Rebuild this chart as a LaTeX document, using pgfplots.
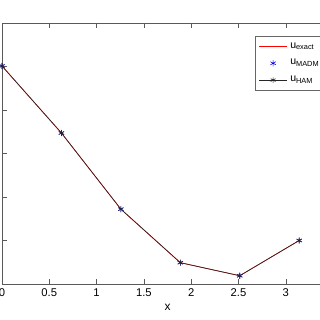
\documentclass[border=0pt]{standalone}
\usepackage{pgfplots}
\pgfplotsset{compat=1.18}
\usepackage{fontspec}
\setmainfont{Liberation Sans}
\begin{document}
\begin{tikzpicture}[x=0.025cm,y=0.025cm]
\begin{axis}[
  at={(0,0)}, anchor=south west,
  scale only axis, width=8.275cm, height=6.525cm,
  xmin=0, xmax=3.5, ymin=0, ymax=6,
  xtick={0,0.5,...,3.5},
  xticklabels={0,0.5,1,1.5,2,2.5,3,},
  ytick={0,1,...,6}, yticklabels={},
  tick align=inside, major tick length=0.12cm,
  axis line style={draw=black!65}, tick style={black!65},
  tick label style={font=\fontsize{8}{9}\selectfont},
  /pgf/number format/assume math mode=true,
  xlabel={x}, xlabel style={font=\fontsize{8.5}{10}\selectfont, yshift=2pt},
  legend style={at={(0.764,0.95)}, anchor=north west, font=\fontsize{7.5}{8.5}\selectfont,
    draw=black!60, row sep=2.5pt, inner sep=2.5pt},
  legend cell align=left,
  legend image code/.code={\draw[mark repeat=2,mark phase=2,#1] plot coordinates {(0cm,0cm) (0.35cm,0cm) (0.7cm,0cm)};},
]
\addplot[red, line width=0.5pt] coordinates {(0,5.01) (0.6283,3.47) (1.2566,1.72) (1.885,0.49) (2.5133,0.19) (3.1416,1.00)};
\addlegendentry{u\textsubscript{exact}}
\addplot[only marks, blue, mark=asterisk, mark size=2.2pt] coordinates {(0,5.01) (0.6283,3.47) (1.2566,1.72) (1.885,0.49) (2.5133,0.19) (3.1416,1.00)};
\addlegendentry{u\textsubscript{MADM}}
\addplot[black!85, line width=0.45pt, mark=asterisk, mark size=2pt] coordinates {(0,5.01) (0.6283,3.47) (1.2566,1.72) (1.885,0.49) (2.5133,0.19) (3.1416,1.00)};
\addlegendentry{u\textsubscript{HAM}}
\end{axis}
\pgfresetboundingbox
\useasboundingbox (-2,-36) rectangle (318,284);
\end{tikzpicture}
\end{document}
